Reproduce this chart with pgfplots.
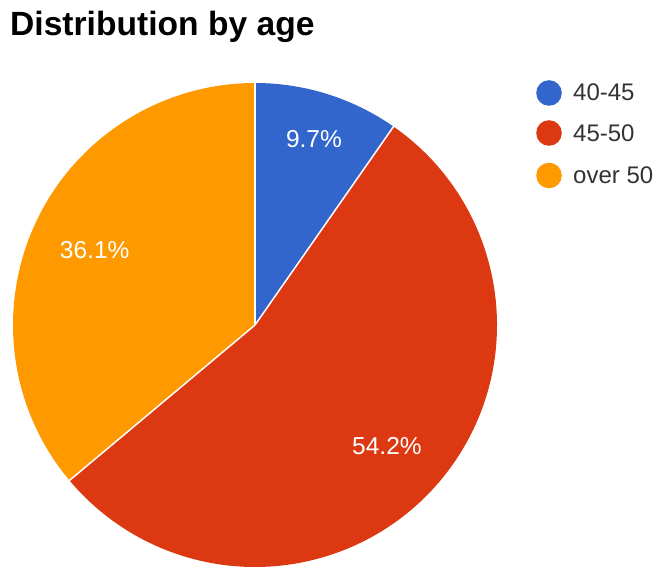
\documentclass[border=0pt]{standalone}
\usepackage{pgfplots}
\pgfplotsset{compat=1.18}
\usepackage{fontspec}
\setmainfont{Liberation Sans}
\definecolor{cA}{HTML}{3366CC}
\definecolor{cB}{HTML}{DC3912}
\definecolor{cC}{HTML}{FF9900}
\begin{document}
\begin{tikzpicture}[x=1pt,y=1pt]
\useasboundingbox (0,0) rectangle (659,566);
\begin{axis}[at={(13pt,-1pt)}, anchor=south west, width=484pt, height=484pt,
  scale only axis, xmin=-1, xmax=1, ymin=-1, ymax=1, hide axis, clip=false]
% slices: start at 90 deg, clockwise; 1% = 3.6 deg
\fill[cA] (axis cs:0,0) -- ++(90:242pt) arc[start angle=90, delta angle=-9.7*3.6, radius=242pt] -- cycle;
\fill[cB] (axis cs:0,0) -- ++(55.08:242pt) arc[start angle=55.08, delta angle=-54.2*3.6, radius=242pt] -- cycle;
\fill[cC] (axis cs:0,0) -- ++(-140.04:242pt) arc[start angle=-140.04, delta angle=-36.1*3.6, radius=242pt] -- cycle;
\draw[white, line width=1.5pt] (axis cs:0,0) -- ++(90:242.5pt);
\draw[white, line width=1.5pt] (axis cs:0,0) -- ++(55.08:242.5pt);
\draw[white, line width=1.5pt] (axis cs:0,0) -- ++(-140.04:242.5pt);
\path (axis cs:0,0) ++(72.4:195pt) node[text=white, font=\fontsize{24.5}{28}\selectfont] {9.7\%};
\path (axis cs:0,0) ++(-42.5:179pt) node[text=white, font=\fontsize{24.5}{28}\selectfont] {54.2\%};
\path (axis cs:0,0) ++(154.9:177pt) node[text=white, font=\fontsize{24.5}{28}\selectfont] {36.1\%};
\end{axis}
\node[anchor=base west, font=\bfseries\fontsize{33.6}{38}\selectfont, inner sep=0pt] at (10,530) {Distribution by age};
\fill[cA] (549,473) circle (12.8);
\fill[cB] (549,433) circle (12.8);
\fill[cC] (549,390.5) circle (12.8);
\node[anchor=west, inner sep=0pt, text=black!80, font=\fontsize{24}{28}\selectfont] at (573,474) {40-45};
\node[anchor=west, inner sep=0pt, text=black!80, font=\fontsize{24}{28}\selectfont] at (573,433) {45-50};
\node[anchor=west, inner sep=0pt, text=black!80, font=\fontsize{24}{28}\selectfont] at (573,391) {over 50};
\end{tikzpicture}
\end{document}
